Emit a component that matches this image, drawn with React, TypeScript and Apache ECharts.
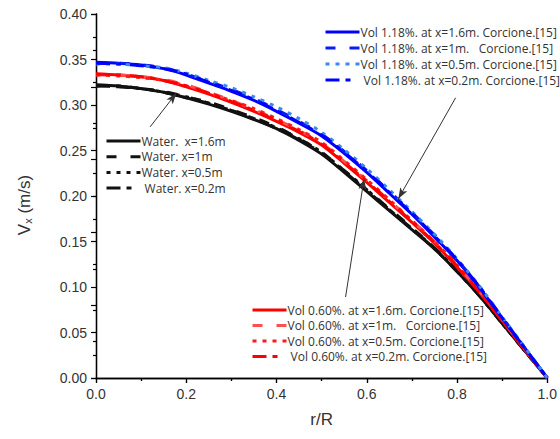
import React, { useEffect, useRef } from "react";
import * as echarts from "echarts";

const rR = [0, 0.05, 0.1, 0.15, 0.2, 0.25, 0.3, 0.35, 0.4, 0.45, 0.5, 0.55, 0.6, 0.65, 0.7, 0.75, 0.8, 0.85, 0.9, 0.95, 1.0];

const blue16 = [0.347, 0.346, 0.344, 0.340, 0.333, 0.324, 0.315, 0.305, 0.293, 0.280, 0.266, 0.247, 0.226, 0.203, 0.180, 0.155, 0.129, 0.099, 0.066, 0.033, 0];
const blue1 = [0.346, 0.346, 0.344, 0.341, 0.334, 0.326, 0.317, 0.307, 0.295, 0.282, 0.268, 0.249, 0.228, 0.205, 0.182, 0.157, 0.130, 0.100, 0.067, 0.033, 0];
const blue05 = [0.345, 0.345, 0.343, 0.341, 0.335, 0.327, 0.319, 0.309, 0.298, 0.285, 0.270, 0.251, 0.230, 0.207, 0.183, 0.158, 0.131, 0.101, 0.067, 0.034, 0];
const blue02 = [0.346, 0.345, 0.343, 0.340, 0.334, 0.325, 0.316, 0.306, 0.294, 0.281, 0.267, 0.248, 0.227, 0.204, 0.181, 0.156, 0.130, 0.100, 0.066, 0.033, 0];

const red16 = [0.334, 0.333, 0.331, 0.327, 0.320, 0.312, 0.303, 0.293, 0.282, 0.270, 0.256, 0.236, 0.215, 0.193, 0.171, 0.148, 0.122, 0.094, 0.063, 0.031, 0];
const red1 = [0.333, 0.333, 0.331, 0.328, 0.322, 0.314, 0.305, 0.295, 0.284, 0.272, 0.258, 0.238, 0.217, 0.195, 0.173, 0.150, 0.124, 0.095, 0.064, 0.032, 0];
const red05 = [0.333, 0.332, 0.330, 0.327, 0.321, 0.313, 0.305, 0.296, 0.285, 0.273, 0.259, 0.239, 0.218, 0.196, 0.173, 0.150, 0.124, 0.095, 0.064, 0.032, 0];
const red02 = [0.334, 0.333, 0.331, 0.327, 0.321, 0.313, 0.304, 0.294, 0.283, 0.271, 0.257, 0.237, 0.216, 0.194, 0.172, 0.149, 0.123, 0.094, 0.063, 0.031, 0];

const black16 = [0.322, 0.321, 0.318, 0.314, 0.308, 0.301, 0.293, 0.284, 0.274, 0.261, 0.246, 0.226, 0.205, 0.184, 0.163, 0.142, 0.117, 0.090, 0.060, 0.030, 0];
const black1 = [0.321, 0.320, 0.318, 0.315, 0.309, 0.303, 0.295, 0.286, 0.276, 0.263, 0.248, 0.228, 0.207, 0.186, 0.165, 0.143, 0.118, 0.091, 0.061, 0.030, 0];
const black05 = [0.321, 0.320, 0.318, 0.314, 0.309, 0.302, 0.294, 0.285, 0.275, 0.263, 0.248, 0.228, 0.207, 0.185, 0.164, 0.143, 0.118, 0.091, 0.060, 0.030, 0];
const black02 = [0.322, 0.321, 0.318, 0.314, 0.308, 0.302, 0.294, 0.285, 0.274, 0.262, 0.247, 0.227, 0.206, 0.185, 0.164, 0.142, 0.117, 0.090, 0.060, 0.030, 0];

const NB = "\u00a0";
const waterNames = ["Water." + NB + NB + "x=1.6m", "Water. x=1m", "Water. x=0.5m", NB + "Water. x=0.2m"];
const blueNames = [
  "Vol 1.18%. at x=1.6m. Corcione.[15]",
  "Vol 1.18%. at x=1m." + NB + NB + NB + "Corcione.[15]",
  "Vol 1.18%. at x=0.5m. Corcione.[15]",
  NB + "Vol 1.18%. at x=0.2m. Corcione.[15]",
];
const redNames = [
  "Vol 0.60%. at x=1.6m. Corcione.[15]",
  "Vol 0.60%. at x=1m." + NB + NB + NB + "Corcione.[15]",
  "Vol 0.60%. at x=0.5m. Corcione.[15]",
  NB + "Vol 0.60%. at x=0.2m. Corcione.[15]",
];

// arrow annotations in data coordinates [r/R, Vx]
const arrowWater = [[0.12, 0.276], [0.178, 0.313]];
const arrowBlue = [[0.797, 0.308], [0.67, 0.197]];
const arrowRed = [[0.553, 0.089], [0.594, 0.219]];

const DASHED = [10, 14];
const DOTTED = [4, 6];
const DASHDOT = [14, 6, 5, 9];

export default function App() {
  const ref = useRef<HTMLDivElement>(null);
  useEffect(() => {
    if (!ref.current) return;
    const chart = echarts.init(ref.current, null, { renderer: "svg" });
    const pair = (ys: number[]) => rR.map((x, i) => [x, ys[i]]);
    const mk = (name: string, ys: number[], color: string, type: any, z = 2) => ({
      name,
      type: "line",
      data: pair(ys),
      smooth: 0.3,
      symbol: "none",
      showSymbol: false,
      z,
      lineStyle: { color, width: 3, type, cap: "butt" },
      itemStyle: { color },
    });
    const arrowLine = (a: number[][]) => [
      { coord: a[0], symbol: "none" },
      { coord: a[1], symbol: "arrow", symbolSize: [6, 11] },
    ];
    const font = "'Liberation Sans', Arial, sans-serif";
    const legendFont = "'Open Sans', 'Liberation Sans', sans-serif";
    const legendBase = {
      orient: "vertical",
      itemWidth: 34,
      itemHeight: 14,
      itemGap: 4,
      selectedMode: false,
      itemStyle: { color: "rgba(0,0,0,0)", borderWidth: 0, opacity: 0 },
      lineStyle: { width: 3 },
      textStyle: { fontFamily: legendFont, fontSize: 12, color: "#333", padding: [0, 0, 0, -4] },
    };
    const option: any = {
      animation: false,
      backgroundColor: "#ffffff",
      grid: { left: 96, top: 14, width: 454, height: 364, containLabel: false },
      legend: [
        { ...legendBase, left: 319, top: 21, data: blueNames },
        { ...legendBase, left: 100, top: 130, itemGap: 3.7, data: waterNames },
        { ...legendBase, left: 246, top: 299, itemGap: 3.5, data: redNames },
      ],
      xAxis: [
        {
          type: "value",
          min: 0,
          max: 1,
          interval: 0.2,
          position: "bottom",
          name: "r/R",
          nameLocation: "middle",
          nameGap: 33,
          nameTextStyle: { fontFamily: font, fontSize: 17, color: "#333" },
          axisLine: { show: true, lineStyle: { color: "#000", width: 1.3 } },
          axisTick: { show: true, inside: false, length: 5, lineStyle: { color: "#000", width: 1.2 } },
          minorTick: { show: true, splitNumber: 2, length: 3, lineStyle: { color: "#000", width: 1.2 } },
          axisLabel: {
            fontFamily: font,
            fontSize: 14,
            color: "#333",
            margin: 9,
            formatter: (v: number) => v.toFixed(1),
          },
          splitLine: { show: false },
        },
        {
          type: "value",
          min: 0,
          max: 1,
          interval: 0.2,
          position: "top",
          axisLine: { show: true, lineStyle: { color: "#000", width: 1.3 } },
          axisTick: { show: true, inside: true, length: 5, lineStyle: { color: "#000", width: 1.2 } },
          minorTick: { show: true, splitNumber: 2, length: 3, lineStyle: { color: "#000", width: 1.2 } },
          axisLabel: { show: false },
          splitLine: { show: false },
        },
      ],
      yAxis: [
        {
          type: "value",
          min: 0,
          max: 0.4,
          interval: 0.05,
          position: "left",
          name: "{v|V}{s|x}{v| (m/s)}",
          nameLocation: "middle",
          nameGap: 63,
          nameRotate: 90,
          nameTextStyle: {
            fontFamily: font,
            color: "#333",
            padding: [0, 18, 0, 0],
            rich: {
              v: { fontFamily: font, fontSize: 17, color: "#333", verticalAlign: "bottom", lineHeight: 20 },
              s: { fontFamily: font, fontSize: 11, color: "#333", verticalAlign: "bottom", lineHeight: 12 },
            },
          },
          axisLine: { show: true, lineStyle: { color: "#000", width: 1.3 } },
          axisTick: { show: true, inside: false, length: 5, lineStyle: { color: "#000", width: 1.2 } },
          minorTick: { show: true, splitNumber: 2, length: 3, lineStyle: { color: "#000", width: 1.2 } },
          axisLabel: {
            fontFamily: font,
            fontSize: 14,
            color: "#333",
            margin: 9,
            formatter: (v: number) => v.toFixed(2),
          },
          splitLine: { show: false },
        },
        {
          type: "value",
          min: 0,
          max: 5,
          interval: 1,
          position: "right",
          axisLine: { show: true, lineStyle: { color: "#000", width: 1.3 } },
          axisTick: { show: true, inside: true, length: 5, lineStyle: { color: "#000", width: 1.2 } },
          minorTick: { show: true, splitNumber: 2, length: 3, lineStyle: { color: "#000", width: 1.2 } },
          axisLabel: { show: false },
          splitLine: { show: false },
        },
      ],
      series: [
        {
          ...mk(waterNames[0], black16, "#111111", "solid"),
          markLine: {
            silent: true,
            animation: false,
            label: { show: false },
            lineStyle: { color: "#333", width: 1, type: "solid" },
            data: [arrowLine(arrowWater), arrowLine(arrowBlue), arrowLine(arrowRed)],
          },
        },
        mk(waterNames[1], black1, "#111111", DASHED),
        mk(waterNames[2], black05, "#111111", DOTTED),
        mk(waterNames[3], black02, "#111111", DASHDOT),
        mk(redNames[0], red16, "#ff0000", "solid", 3),
        mk(redNames[1], red1, "#ff4f4f", DASHED, 3),
        mk(redNames[2], red05, "#ff1a1a", DOTTED, 3),
        mk(redNames[3], red02, "#ff0000", DASHDOT, 3),
        mk(blueNames[0], blue16, "#0000ff", "solid", 4),
        mk(blueNames[1], blue1, "#0a1cf5", DASHED, 4),
        mk(blueNames[2], blue05, "#3a8cec", DOTTED, 4),
        mk(blueNames[3], blue02, "#0000ff", DASHDOT, 4),
      ],
    };
    chart.setOption(option);
    return () => chart.dispose();
  }, []);
  return (
    <div
      ref={ref}
      style={{ position: "fixed", left: 0, top: 0, width: 560, height: 439, background: "#fff" }}
    />
  );
}
